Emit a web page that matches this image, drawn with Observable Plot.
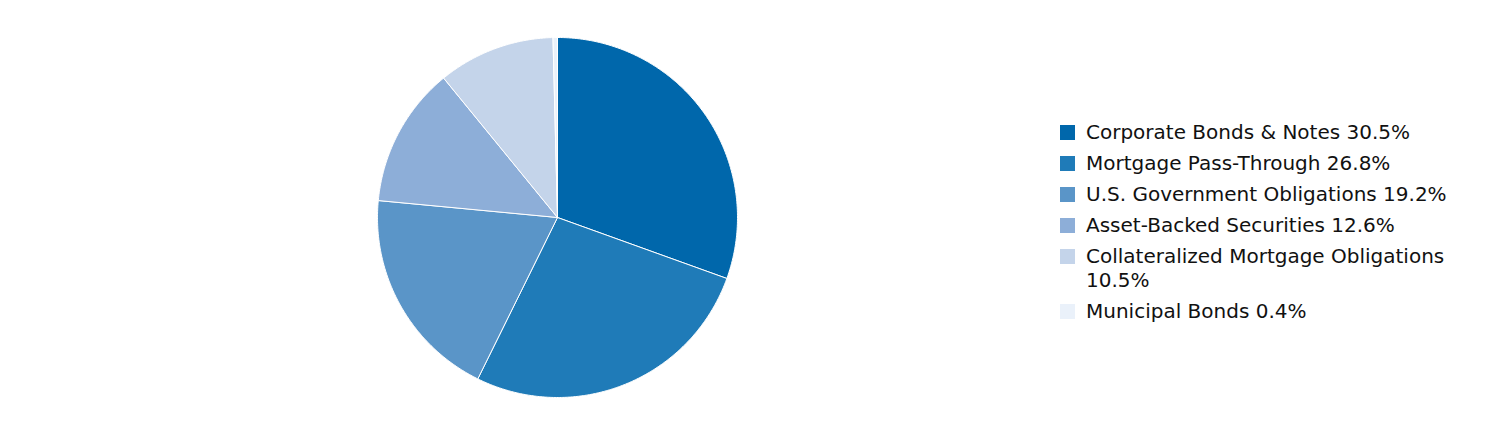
<!DOCTYPE html>
<html>
<head>
<meta charset="utf-8">
<script src="https://cdn.jsdelivr.net/npm/d3@7"></script>
<script src="https://cdn.jsdelivr.net/npm/@observablehq/plot@0.6"></script>
<style>
  html, body { margin: 0; padding: 0; background: #fff; }
  #wrap { position: relative; width: 1512px; height: 444px; font-family: "DejaVu Sans", Verdana, sans-serif; }
  #legend { position: absolute; left: 1060px; top: 120px; width: 445px; font-size: 20px; color: #111; }
  .item { display: flex; align-items: flex-start; line-height: 24px; margin-bottom: 7px; }
  .sw { width: 15px; height: 15px; flex: none; margin-top: 5px; margin-right: 11px; }
</style>
</head>
<body>
<div id="wrap"><div id="legend"></div></div>
<script>
const categories = ["Corporate Bonds & Notes", "Mortgage Pass-Through", "U.S. Government Obligations", "Asset-Backed Securities", "Collateralized Mortgage Obligations", "Municipal Bonds"];
const values = [30.5, 26.8, 19.2, 12.6, 10.5, 0.4];
const colors = ["#0067AB", "#1F7BB8", "#5A95C8", "#8DAED8", "#C4D4EA", "#EAF1FA"];

const pie = d3.pie().sort(null).value(d => d.value)(categories.map((name, i) => ({name, value: values[i]})));
const pts = [];
for (const s of pie) {
  const name = s.data.name;
  pts.push({name, x: 0, y: 0});
  const n = Math.max(2, Math.ceil((s.endAngle - s.startAngle) / (Math.PI / 360)));
  for (let k = 0; k <= n; k++) {
    const a = s.startAngle + (s.endAngle - s.startAngle) * k / n;
    pts.push({name, x: Math.sin(a), y: Math.cos(a)});
  }
  pts.push({name, x: 0, y: 0});
}

const chart = Plot.plot({
  width: 1512,
  height: 444,
  margin: 0,
  x: {domain: [-1, 1], range: [377, 737], axis: null},
  y: {domain: [-1, 1], range: [397, 37], axis: null},
  color: {domain: categories, range: colors},
  marks: [
    Plot.line(pts, {x: "x", y: "y", z: "name", fill: "name", stroke: "white", strokeWidth: 1, strokeLinejoin: "round"})
  ]
});
document.getElementById("wrap").prepend(chart);

const legend = document.getElementById("legend");
categories.forEach((c, i) => {
  const it = document.createElement("div");
  it.className = "item";
  const sw = document.createElement("div");
  sw.className = "sw";
  sw.style.background = colors[i];
  const t = document.createElement("div");
  t.textContent = `${c} ${values[i].toFixed(1)}%`;
  it.append(sw, t);
  legend.append(it);
});
</script>
</body>
</html>
